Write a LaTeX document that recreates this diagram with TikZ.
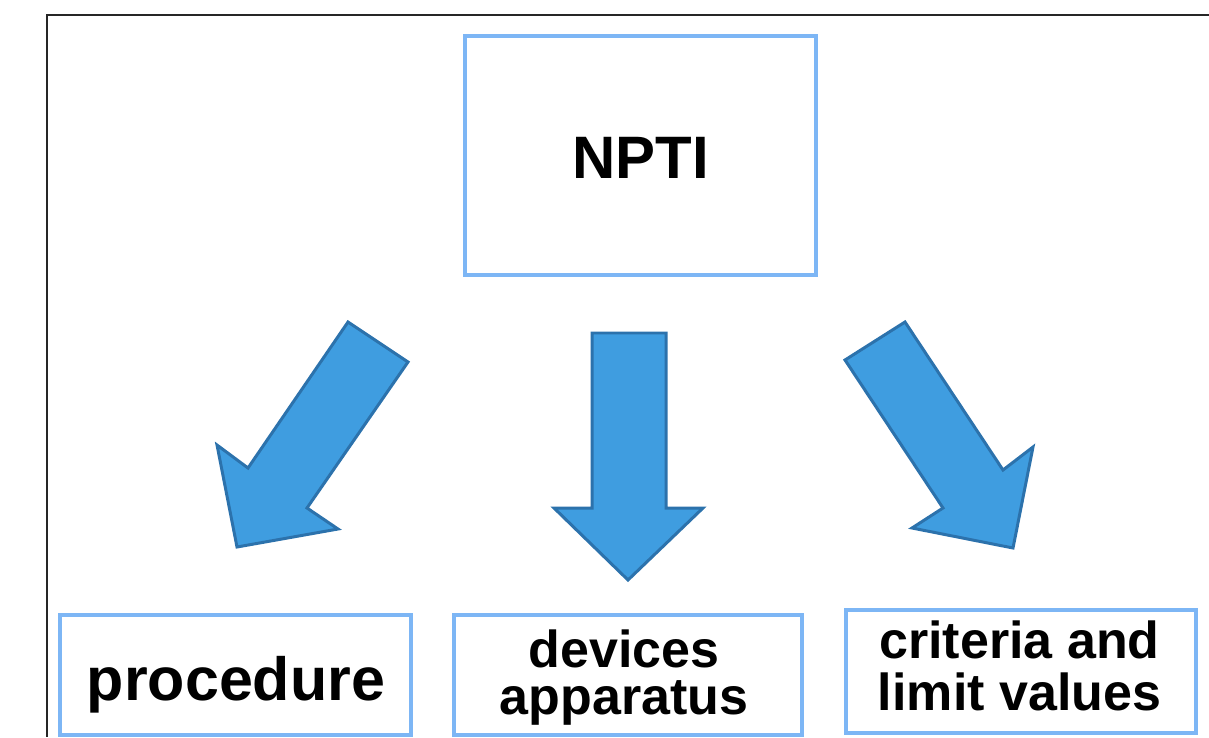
\documentclass[tikz,border=0pt]{standalone}
\usepackage{fontspec}
\setmainfont{Liberation Sans}
\definecolor{boxblue}{HTML}{7DB6F5}
\definecolor{arrowfill}{HTML}{3F9DE0}
\definecolor{arrowline}{HTML}{2C72AC}

\begin{document}
\begin{tikzpicture}[x=0.02cm, y=-0.02cm,
  box/.style={draw=boxblue, line width=2.3pt, inner sep=0pt},
  bigarrow/.style={fill=arrowfill, draw=arrowline, line width=1.7pt, line join=miter},
  word/.style={anchor=base, align=center, inner sep=0pt}]
  \useasboundingbox (0,0) rectangle (1209,737);

  % Draw the frame
  \draw[line width=1.1pt, black!85] (1209,15) -- (47,15) -- (47,737);

  % Draw the boxes
  \node[box, minimum width=7.02cm, minimum height=4.78cm] (npti) at (640.5,155.5) {};
  \node[box, minimum width=7.02cm, minimum height=2.4cm] (proc) at (235.5,675) {};
  \node[box, minimum width=6.96cm, minimum height=2.4cm] (devices) at (628,675) {};
  \node[box, minimum width=7cm, minimum height=2.46cm] (criteria) at (1021,671.5) {};

  % Texts in the boxes (base is the last line)
  \node[word, font=\fontsize{34.1}{34.1}\selectfont\bfseries] (nptitext) at (640.5,178) {NPTI};
  \node[word, font=\fontsize{34.7}{34.7}\selectfont\bfseries] (proctext) at (236,700) {procedure};
  \node[word, font=\fontsize{29.6}{26.7}\selectfont\bfseries] (devicestext) at (624,714) {devices\\apparatus};
  \node[word, font=\fontsize{29.6}{29.6}\selectfont\bfseries] (criteriatext) at (1019.5,710) {criteria and\\limit values};

  % Draw the arrows
  \draw[bigarrow] (348,322) -- (408,362) -- (307,508) -- (338,529) -- (237,547) -- (217,445) -- (248,468) -- cycle;
  \draw[bigarrow] (592,333) -- (666,333) -- (666,508) -- (703,508) -- (628,580) -- (554,508) -- (592,508) -- cycle;
  \draw[bigarrow] (905,322) -- (845,360) -- (943,508) -- (912,528) -- (1013,548) -- (1033,447) -- (1003,470) -- cycle;
\end{tikzpicture}
\end{document}
